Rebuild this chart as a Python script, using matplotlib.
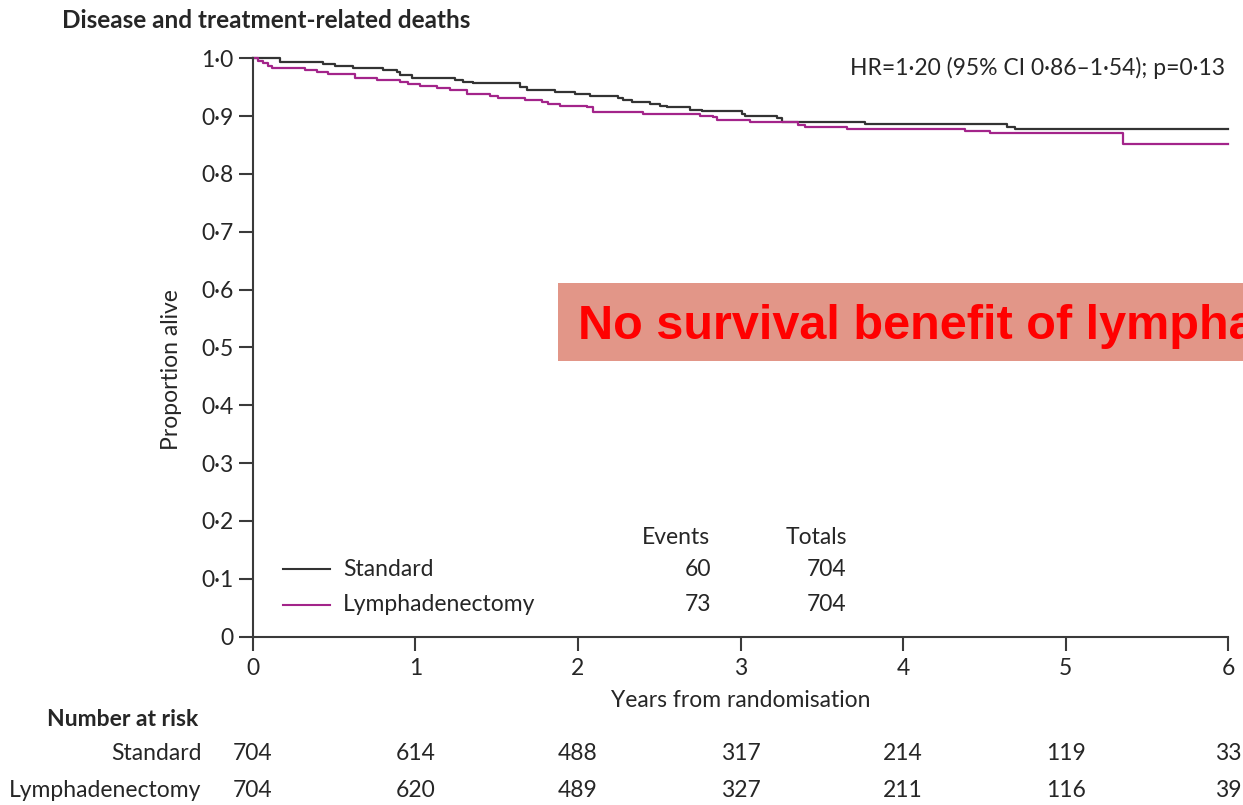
import matplotlib
matplotlib.use("Agg")
import matplotlib.pyplot as plt
from matplotlib.patches import Rectangle
from matplotlib.lines import Line2D

# Kaplan-Meier step points (years, proportion alive)
standard_t = [0.0, 0.168, 0.433, 0.506, 0.617, 0.801, 0.887, 0.906, 0.980, 1.244, 1.293,
              1.355, 1.644, 1.687, 1.859, 1.982, 2.074, 2.247, 2.277, 2.333, 2.443, 2.505,
              2.548, 2.689, 2.763, 3.009, 3.028, 3.225, 3.255, 3.766, 4.639, 4.688, 6.0]
standard_s = [1.000, 0.994, 0.990, 0.987, 0.983, 0.980, 0.976, 0.971, 0.966, 0.962, 0.959,
              0.957, 0.951, 0.946, 0.942, 0.939, 0.935, 0.931, 0.928, 0.924, 0.921, 0.917,
              0.915, 0.911, 0.909, 0.903, 0.901, 0.897, 0.890, 0.886, 0.882, 0.877, 0.877]

lymph_t = [0.0, 0.033, 0.063, 0.094, 0.119, 0.322, 0.395, 0.463, 0.629, 0.764, 0.906,
           0.955, 1.029, 1.133, 1.213, 1.318, 1.459, 1.509, 1.675, 1.779, 1.816, 1.890,
           2.056, 2.093, 2.400, 2.751, 2.831, 2.855, 3.058, 3.353, 3.396, 3.655, 4.381,
           4.535, 5.352, 6.0]
lymph_s = [1.000, 0.996, 0.991, 0.987, 0.983, 0.980, 0.976, 0.973, 0.966, 0.962, 0.959,
           0.956, 0.952, 0.948, 0.945, 0.938, 0.935, 0.931, 0.928, 0.924, 0.921, 0.917,
           0.915, 0.907, 0.904, 0.900, 0.898, 0.894, 0.890, 0.885, 0.881, 0.877, 0.874,
           0.870, 0.852, 0.852]

groups = ["Standard", "Lymphadenectomy"]
events = [60, 73]
totals = [704, 704]
risk_years = [0, 1, 2, 3, 4, 5, 6]
risk_standard = [704, 614, 488, 317, 214, 119, 33]
risk_lymph = [704, 620, 489, 327, 211, 116, 39]
y_ticks = [0.0, 0.1, 0.2, 0.3, 0.4, 0.5, 0.6, 0.7, 0.8, 0.9, 1.0]
y_tick_labels = ["0", "0·1", "0·2", "0·3", "0·4", "0·5", "0·6", "0·7", "0·8", "0·9", "1·0"]
x_ticks = [0, 1, 2, 3, 4, 5, 6]

TXT = "#262626"
AX = "#3a3a3a"
C_STD = "#333333"
C_LYM = "#a3248a"
FONT = "Lato"
FS = 16.5

fig = plt.figure(figsize=(12.43, 8.05), dpi=100)
ax = fig.add_axes([0.2033, 0.2091, 0.7849, 0.7185])

ax.step(standard_t, standard_s, where="post", color=C_STD, lw=1.6, clip_on=False)
ax.step(lymph_t, lymph_s, where="post", color=C_LYM, lw=1.6, clip_on=False)

ax.set_xlim(0, 6)
ax.set_ylim(0, 1)
for s in ("top", "right"):
    ax.spines[s].set_visible(False)
for s in ("left", "bottom"):
    ax.spines[s].set_color(AX)
    ax.spines[s].set_linewidth(1.5)
ax.set_yticks(y_ticks)
ax.set_yticklabels(y_tick_labels)
ax.set_xticks(x_ticks)
ax.set_xticklabels([str(v) for v in x_ticks])
ax.tick_params(axis="both", direction="out", length=10, width=1.5, color=AX,
               labelsize=FS, labelcolor=TXT)
ax.tick_params(axis="y", pad=4)
ax.tick_params(axis="x", pad=5)
for lab in ax.get_xticklabels() + ax.get_yticklabels():
    lab.set_fontfamily(FONT)

ax.set_ylabel("Proportion alive", fontsize=FS, family=FONT, color=TXT)
ax.yaxis.set_label_coords(-0.0725, 0.461)
ax.set_xlabel("Years from randomisation", fontsize=FS, family=FONT, color=TXT)
ax.xaxis.set_label_coords(0.5, -0.093)

ax.text(0.9966, 0.983, "HR=1·20 (95% CI 0·86–1·54); p=0·13", transform=ax.transAxes,
        ha="right", va="center", fontsize=FS, family=FONT, color=TXT)

fig.text(0.050, 0.974, "Disease and treatment-related deaths", ha="left", va="center",
         fontsize=17.5, family=FONT, weight="bold", color=TXT)

# legend with event counts
ax.text(0.434, 0.172, "Events", transform=ax.transAxes, ha="center", va="center",
        fontsize=FS, family=FONT, color=TXT)
ax.text(0.578, 0.172, "Totals", transform=ax.transAxes, ha="center", va="center",
        fontsize=FS, family=FONT, color=TXT)
for i, (name, col, yy) in enumerate(zip(groups, [C_STD, C_LYM], [0.117, 0.055])):
    ax.add_line(Line2D([0.031, 0.079], [yy, yy], transform=ax.transAxes, color=col, lw=1.5))
    ax.text(0.0925, yy, name, transform=ax.transAxes, ha="left", va="center",
            fontsize=FS, family=FONT, color=TXT)
    ax.text(0.470, yy, str(events[i]), transform=ax.transAxes, ha="right", va="center",
            fontsize=FS, family=FONT, color=TXT)
    ax.text(0.608, yy, str(totals[i]), transform=ax.transAxes, ha="right", va="center",
            fontsize=FS, family=FONT, color=TXT)

# number at risk table
fig.text(0.0378, 0.1056, "Number at risk", ha="left", va="center", fontsize=16.5,
         family=FONT, weight="bold", color=TXT)
blend = matplotlib.transforms.blended_transform_factory(ax.transData, fig.transFigure)
for name, row, yy in zip(groups, [risk_standard, risk_lymph], [0.0634, 0.0186]):
    fig.text(0.162, yy, name, ha="right", va="center", fontsize=FS, family=FONT, color=TXT)
    for xv, n in zip(risk_years, row):
        ax.text(xv, yy, str(n), transform=blend, ha="center", va="center",
                fontsize=FS, family=FONT, color=TXT, clip_on=False)

# highlighted conclusion banner
fig.patches.append(Rectangle((0.449, 0.5516), 0.6, 0.0968, transform=fig.transFigure,
                             facecolor="#e29688", edgecolor="none", zorder=5))
fig.text(0.465, 0.5789, "No survival benefit of lymphadenectomy", ha="left", va="baseline",
         fontsize=35, family="Liberation Sans", weight="bold", color="#ff0000", zorder=6)

fig.savefig("out.png", dpi=100)
